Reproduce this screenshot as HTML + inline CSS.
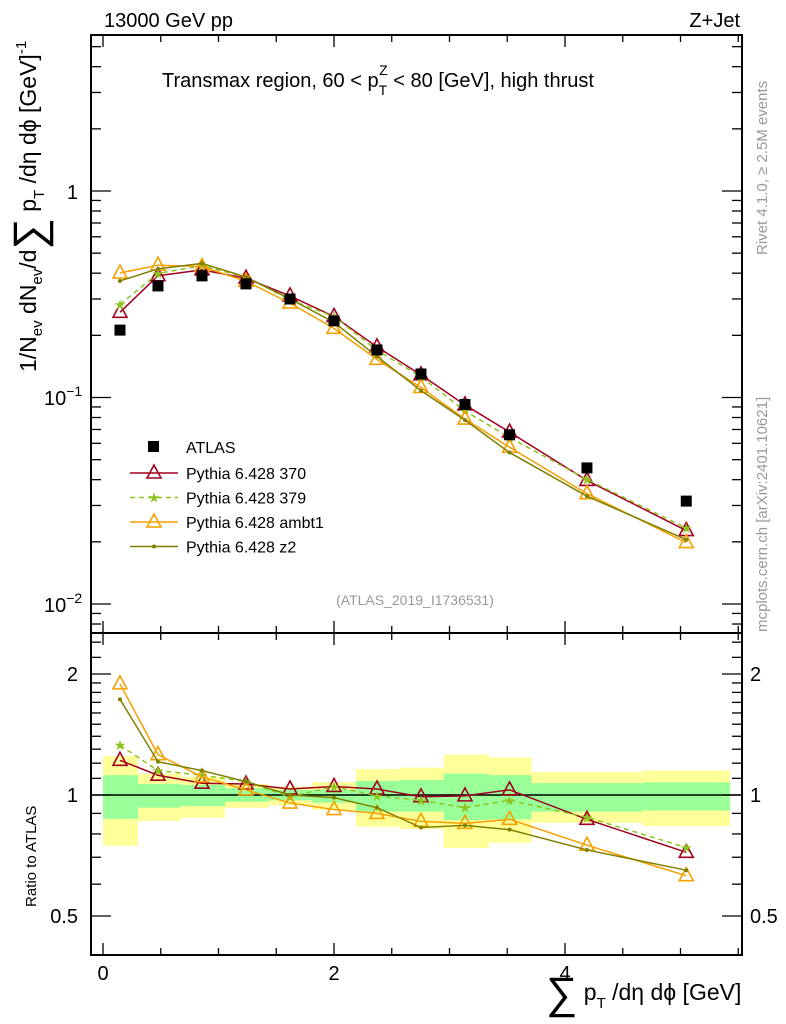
<!DOCTYPE html>
<html><head><meta charset="utf-8"><style>
body{margin:0;background:#fff}
svg{display:block;font-family:"Liberation Sans",sans-serif}
</style></head><body>
<svg id="c" width="786" height="1024" viewBox="0 0 786 1024"></svg>
<script>
const xs=[0.147,0.476,0.857,1.238,1.619,2.0,2.372,2.753,3.134,3.52,4.19,5.05];
const edges=[0,0.303,0.675,1.056,1.437,1.81,2.19,2.57,2.95,3.34,3.71,4.67,5.43];
const atlas=[0.212,0.347,0.388,0.355,0.30,0.235,0.17,0.13,0.0925,0.066,0.0456,0.0315];
const r370=[1.22,1.12,1.07,1.065,1.035,1.05,1.035,0.99,0.995,1.03,0.87,0.72];
const r379=[1.33,1.15,1.12,1.08,0.99,1.05,0.995,0.97,0.93,0.97,0.88,0.74];
const rambt1=[1.89,1.26,1.11,1.03,0.955,0.92,0.9,0.86,0.85,0.87,0.75,0.63];
const rz2=[1.73,1.21,1.15,1.08,1.0,0.985,0.93,0.83,0.84,0.82,0.73,0.65];
const yelUp=[1.25,1.13,1.11,1.065,1.05,1.077,1.16,1.17,1.26,1.24,1.14,1.15];
const yelDn=[0.748,0.862,0.878,0.929,0.944,0.918,0.834,0.823,0.738,0.761,0.853,0.837];
const grnUp=[1.12,1.065,1.06,1.04,1.03,1.03,1.084,1.09,1.13,1.12,1.07,1.075];
const grnDn=[0.872,0.93,0.939,0.962,0.97,0.957,0.909,0.909,0.866,0.87,0.909,0.915];
const xTicks=[0,2,4];

const NS="http://www.w3.org/2000/svg";
const svg=document.getElementById('c');
function el(t,a,p){const e=document.createElementNS(NS,t);for(const k in a)e.setAttribute(k,a[k]);(p||svg).appendChild(e);return e;}
const L=91,R=742,T=35,M=633,B=955;
const X=v=>103+v*115.5;
const Y=v=>191-Math.log10(v)*206.5;
const RY=v=>795-Math.log2(v)*121;

for(let i=0;i<xs.length;i++){
  let e=el('rect',{x:X(edges[i]),y:RY(yelUp[i]),width:X(edges[i+1])-X(edges[i]),height:RY(yelDn[i])-RY(yelUp[i]),fill:'#ffff99'});
  
  e=el('rect',{x:X(edges[i]),y:RY(grnUp[i]),width:X(edges[i+1])-X(edges[i]),height:RY(grnDn[i])-RY(grnUp[i]),fill:'#99ff99'});
  
}
el('line',{x1:L,x2:R,y1:RY(1),y2:RY(1),stroke:'#000','stroke-width':1.5});

el('rect',{x:L,y:T,width:R-L,height:M-T,fill:'none',stroke:'#000','stroke-width':2});
el('rect',{x:L,y:M,width:R-L,height:B-M,fill:'none',stroke:'#000','stroke-width':2});

function txt(x,y,s,a){const e=el('text',Object.assign({x:x,y:y,'font-size':20},a||{}));e.textContent=s;return e;}
for(let v=0;v<=5.5;v+=0.5){
  const maj=xTicks.includes(v),len=maj?12:7;
  for(const [y0,dir] of [[T,1],[M,-1],[M,1],[B,-1]]) el('line',{x1:X(v),x2:X(v),y1:y0,y2:y0+dir*len,stroke:'#000','stroke-width':1.3});
}
xTicks.forEach(v=>{const e=txt(X(v),980,String(v),{'text-anchor':'middle'});});
for(let d=-3;d<=0;d++)for(let m=1;m<=9;m++){const v=m*Math.pow(10,d);const y=Y(v);if(y<T||y>M)continue;const len=m==1?20:10;
  el('line',{x1:L,x2:L+len,y1:y,y2:y,stroke:'#000','stroke-width':1.3});el('line',{x1:R,x2:R-len,y1:y,y2:y,stroke:'#000','stroke-width':1.3});}
txt(78,199,'1',{'text-anchor':'end'});
let t=txt(44,405,'10',{});el('tspan',{dy:-9,'font-size':14},t).textContent='−1';
t=txt(44,612,'10',{});el('tspan',{dy:-9,'font-size':14},t).textContent='−2';
[0.4,0.5,0.6,0.7,0.8,0.9,1,1.1,1.2,1.3,1.4,1.5,1.6,1.7,1.8,1.9,2,2.2,2.4].forEach(v=>{const y=RY(v);if(y<M||y>B)return;const len=[0.5,1,2].includes(v)?20:10;
  el('line',{x1:L,x2:L+len,y1:y,y2:y,stroke:'#000','stroke-width':1.3});el('line',{x1:R,x2:R-len,y1:y,y2:y,stroke:'#000','stroke-width':1.3});});
[[0.5,'0.5'],[1,'1'],[2,'2']].forEach(([v,s])=>{txt(78,RY(v)+7,s,{'text-anchor':'end'});txt(750,RY(v)+7,s,{});});

const series=[
 {n:'pythia-370',r:r370,c:'#a00020',dash:'',m:'tri'},
 {n:'pythia-379',r:r379,c:'#8dc31f',dash:'5,4',m:'star'},
 {n:'pythia-ambt1',r:rambt1,c:'#f5a000',dash:'',m:'tri'},
 {n:'pythia-z2',r:rz2,c:'#808000',dash:'',m:'dot'}];
function marker(x,y,s,g){
  if(s.m=='tri')el('polygon',{points:`${x},${y-8} ${x-7},${y+5} ${x+7},${y+5}`,fill:'none',stroke:s.c,'stroke-width':1.6},g);
  else if(s.m=='star')el('text',{x:x,y:y+5,'font-size':14,'text-anchor':'middle',fill:s.c},g).textContent='★';
  else el('circle',{cx:x,cy:y,r:2,fill:s.c},g);
}
series.forEach(s=>{
  const g=el('g',{});
  const vals=atlas.map((a,i)=>a*s.r[i]);
  el('polyline',{points:xs.map((x,i)=>X(x)+','+Y(vals[i])).join(' '),fill:'none',stroke:s.c,'stroke-width':1.5,'stroke-dasharray':s.dash},g);
  el('polyline',{points:xs.map((x,i)=>X(x)+','+RY(s.r[i])).join(' '),fill:'none',stroke:s.c,'stroke-width':1.5,'stroke-dasharray':s.dash},g);
  xs.forEach((x,i)=>{marker(X(x),Y(vals[i]),s,g);marker(X(x),RY(s.r[i]),s,g);});
});
const ga=el('g',{});
xs.forEach((x,i)=>el('rect',{x:X(x)-5.5,y:Y(atlas[i])-5.5,width:11,height:11,fill:'#000'},ga));

const lg=el('g',{});
el('rect',{x:148,y:441,width:11,height:11,fill:'#000'},lg);
txt(186,453,'ATLAS',{'font-size':16});
const names=['Pythia 6.428 370','Pythia 6.428 379','Pythia 6.428 ambt1','Pythia 6.428 z2'];
series.forEach((s,i)=>{const y=473+i*24.5;
  el('line',{x1:130,x2:178,y1:y,y2:y,stroke:s.c,'stroke-width':1.5,'stroke-dasharray':s.dash},lg);
  marker(154,y,s,lg);
  txt(186,y+6,names[i],{'font-size':16});});

txt(104,27,'13000 GeV pp',{});
txt(740,27,'Z+Jet',{'text-anchor':'end'});
t=txt(162,87,'Transmax region, 60 < p',{});
el('tspan',{dy:8,'font-size':14},t).textContent='T';
el('tspan',{dx:-8,dy:-20,'font-size':14},t).textContent='Z';
el('tspan',{dy:12},t).textContent=' < 80 [GeV], high thrust';
txt(415,605,'(ATLAS_2019_I1736531)',{'font-size':14,'text-anchor':'middle',fill:'#999'});
txt(767,255,'Rivet 4.1.0, ≥ 2.5M events',{'font-size':15,fill:'#999',transform:'rotate(-90 767 255)'});
txt(767,632,'mcplots.cern.ch [arXiv:2401.10621]',{'font-size':15,fill:'#999',transform:'rotate(-90 767 632)'});
txt(36,907,'Ratio to ATLAS',{'font-size':15,transform:'rotate(-90 36 907)'});
const yt=el('text',{x:0,y:0,'font-size':23,transform:'translate(36,372) rotate(-90)'});

yt.innerHTML='1/N<tspan font-size="15" dy="6">ev</tspan><tspan dy="-6"> dN</tspan><tspan font-size="15" dy="6">ev</tspan><tspan dy="-6">/d</tspan><tspan font-size="44" dy="8">∑</tspan><tspan dy="-8"> p</tspan><tspan font-size="15" dy="8">T</tspan><tspan dy="-8"> /dη dϕ  [GeV]</tspan><tspan font-size="15" dy="-10">-1</tspan>';
const xt=el('text',{x:546,y:1000,'font-size':23});

xt.innerHTML='<tspan font-size="44" dy="8">∑</tspan><tspan dy="-8"> p</tspan><tspan font-size="15" dy="8">T</tspan><tspan dy="-8"> /dη dϕ [GeV]</tspan>';
</script>
</body></html>
